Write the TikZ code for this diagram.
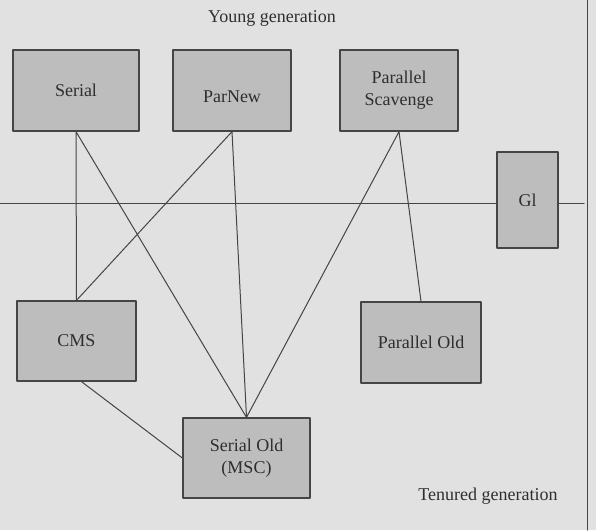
\documentclass[tikz,border=0pt]{standalone}
\usepackage{fontspec}
\setmainfont{Liberation Serif}
\definecolor{bggray}{HTML}{E1E1E1}
\definecolor{boxgray}{HTML}{BDBDBD}
\definecolor{linegray}{HTML}{454545}
\definecolor{txtgray}{HTML}{2E2E2E}
\tikzset{
  gc/.style={draw=linegray, fill=boxgray, line width=1.3pt, inner sep=0pt,
    align=center, text=txtgray, font=\fontsize{18}{22}\selectfont},
  link/.style={draw=linegray, line width=1pt}
}
\begin{document}
\begin{tikzpicture}[x=1pt,y=-1pt, line join=round, line cap=round]
		\fill[bggray] (0,0) rectangle (596,530);
		\useasboundingbox (0,0) rectangle (596,530);
		\draw[link] (0,203.5)--(584,203.5) (587,0)--(587,530);
		\node[text=txtgray, font=\fontsize{18}{22}\selectfont] (young) at (272,18) {Young generation};
		\node[text=txtgray, font=\fontsize{18}{22}\selectfont] (tenured) at (488,496) {Tenured generation};
		\node[gc, minimum width=126pt, minimum height=81pt] (serial) at (76,90.5) {Serial};
		\node[gc, minimum width=118pt, minimum height=81pt] (parnew) at (232,90.5) {\raisebox{-6pt}[\height][\depth]{ParNew}};
		\node[gc, minimum width=118pt, minimum height=81pt] (scavenge) at (399,90.5) {Parallel\\Scavenge};
		\node[gc, minimum width=61pt, minimum height=96pt] (gone) at (527.5,200) {Gl};
		\node[gc, minimum width=119pt, minimum height=80pt] (cms) at (76.5,341) {CMS};
		\node[gc, minimum width=120pt, minimum height=81pt] (parold) at (421,342.5) {Parallel Old};
		\node[gc, minimum width=127pt, minimum height=80pt] (serold) at (246.5,458) {Serial Old\\(MSC)};
		\draw[link] (serial.south)--(cms.north) (serial.south)--(serold.north);
		\draw[link] (parnew.south)--(cms.north) (parnew.south)--(serold.north);
		\draw[link] (scavenge.south)--(serold.north) (scavenge.south)--(parold.north);
		\draw[link] ([xshift=5pt]cms.south)--(serold.west);
	\end{tikzpicture}
\end{document}
